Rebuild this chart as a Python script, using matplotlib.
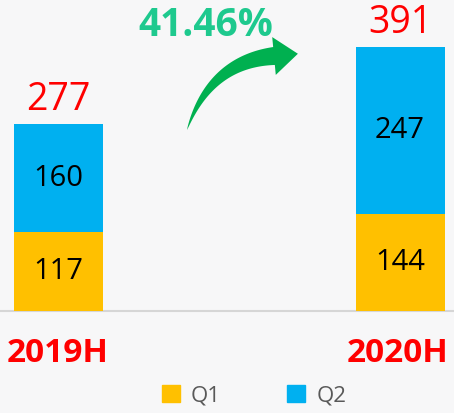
import matplotlib
matplotlib.use("Agg")
import numpy as np
import matplotlib.pyplot as plt
from matplotlib.patches import Patch, Polygon

categories = ["2019H", "2020H"]
q1 = [117, 144]
q2 = [160, 247]
growth_label = "41.46%"

plt.rcParams['font.family'] = ['Open Sans', 'DejaVu Sans']

W, H = 454, 413
fig = plt.figure(figsize=(W / 100, H / 100), dpi=100)
bg = "#f7f7f8"
fig.patch.set_facecolor(bg)

base_px = 311
ax = fig.add_axes([0, (H - base_px) / H, 1, base_px / H])
ax.set_facecolor(bg)
x = list(range(len(categories)))
c0, c1 = 58.5, 400.0
unit = c1 - c0
ax.set_xlim(-c0 / unit, 1 + (W - c1) / unit)
ax.set_ylim(0, base_px / 0.675)
bw = 89 / unit

yellow = "#FFC000"
blue = "#00B0F0"
ax.bar(x, q1, width=bw, color=yellow, label="Q1")
ax.bar(x, q2, width=bw, bottom=q1, color=blue, label="Q2")

for i in x:
    ax.text(i, q1[i] / 2, str(q1[i]), ha="center", va="center", fontsize=21, color="black")
    ax.text(i, q1[i] + q2[i] / 2, str(q2[i]), ha="center", va="center", fontsize=21, color="black")
    tot = q1[i] + q2[i]
    ax.text(i, tot + 8, str(tot), ha="center", va="bottom", fontsize=27, color="#FF0000")

for s in ax.spines.values():
    s.set_visible(False)
ax.set_xticks([])
ax.set_yticks([])
ax.axhline(0, color="#d6d6d6", lw=1.5, zorder=0, clip_on=False)

# category labels
fig.text(58 / W, 1 - 353 / H, categories[0], ha="center", va="center",
         fontsize=24, fontweight="bold", color="#FF0000")
fig.text(398 / W, 1 - 353 / H, categories[1], ha="center", va="center",
         fontsize=24, fontweight="bold", color="#FF0000")

# growth label
fig.text(206 / W, 1 - 25 / H, growth_label, ha="center", va="center",
         fontsize=28, fontweight="bold", color="#1ec98e")

# curved tapered arrow (decoration), built in pixel space
t = np.linspace(0, 1, 60)
P0, Pc, P2 = np.array([187, 130]), np.array([210, 62]), np.array([274, 56])
pts = ((1 - t) ** 2)[:, None] * P0 + (2 * (1 - t) * t)[:, None] * Pc + (t ** 2)[:, None] * P2
der = (2 * (1 - t))[:, None] * (Pc - P0) + (2 * t)[:, None] * (P2 - Pc)
tan = der / np.linalg.norm(der, axis=1)[:, None]
nor = np.column_stack([-tan[:, 1], tan[:, 0]])
hw = 9 * t ** 0.8
upper = pts + nor * hw[:, None]
lower = pts - nor * hw[:, None]
tip = P2 + tan[-1] * 24
h1 = P2 + nor[-1] * 19
h2 = P2 - nor[-1] * 19
poly = np.vstack([upper, h1, tip, h2, lower[::-1]])
poly_fig = np.column_stack([poly[:, 0] / W, 1 - poly[:, 1] / H])
fig.patches.append(Polygon(poly_fig, closed=True, transform=fig.transFigure,
                           facecolor="#00b050", edgecolor="none"))

handles = [Patch(color=yellow, label="Q1"), Patch(color=blue, label="Q2")]
fig.legend(handles=handles, loc="center", bbox_to_anchor=(254 / W, 1 - 396 / H),
           ncol=2, frameon=False, fontsize=16, handlelength=0.8, handleheight=0.8,
           columnspacing=3.0, handletextpad=0.5, labelcolor="#595959")

fig.savefig("out.png", dpi=100, facecolor=bg)
